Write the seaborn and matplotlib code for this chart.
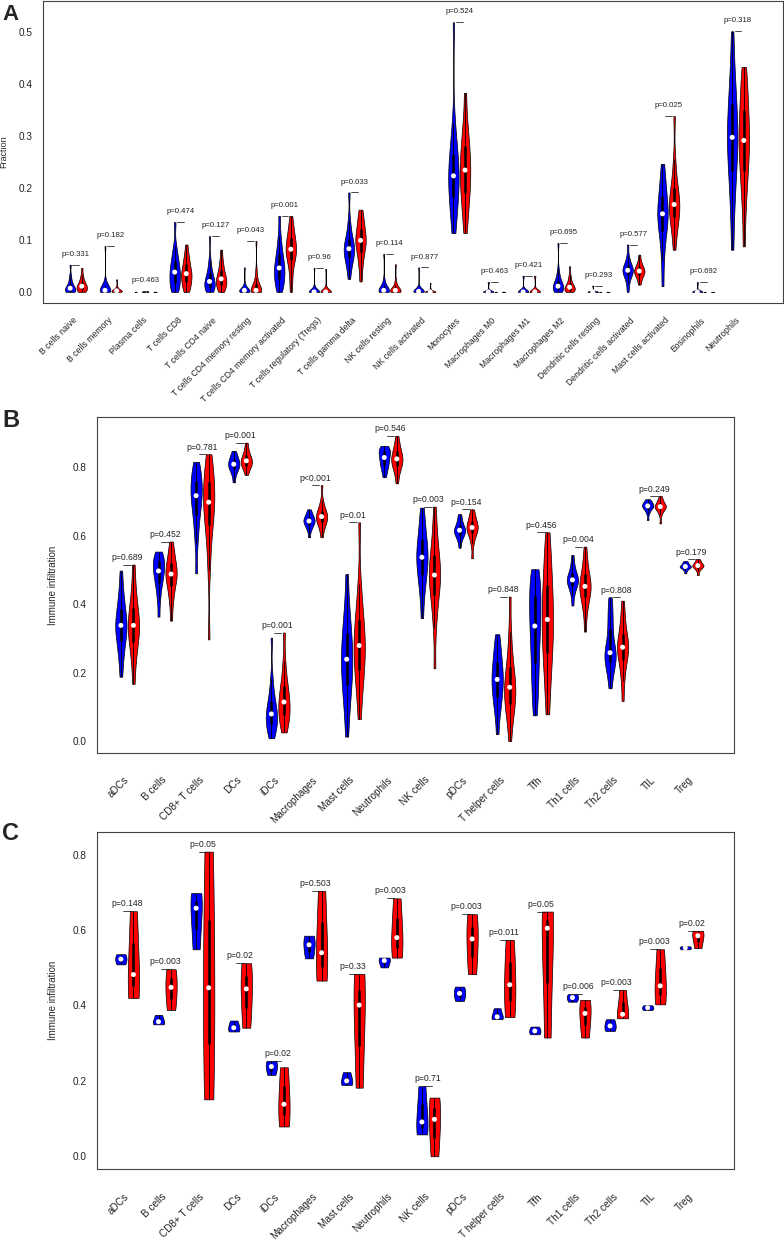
import numpy as np
import pandas as pd
import matplotlib
matplotlib.use('Agg')
import matplotlib.pyplot as plt
from matplotlib.cbook import boxplot_stats
import seaborn as sns

# ---- panel A: CIBERSORT fractions ----
a_cells = ['B cells naive', 'B cells memory', 'Plasma cells', 'T cells CD8', 'T cells CD4 naive',
           'T cells CD4 memory resting', 'T cells CD4 memory activated', 'T cells regulatory (Tregs)',
           'T cells gamma delta', 'NK cells resting', 'NK cells activated', 'Monocytes', 'Macrophages M0',
           'Macrophages M1', 'Macrophages M2', 'Dendritic cells resting', 'Dendritic cells activated',
           'Mast cells activated', 'Eosinophils', 'Neutrophils']
a_normal = [
    [0, 0, 0.001, 0.002, 0.003, 0.004, 0.006, 0.007, 0.009, 0.011, 0.014, 0.018, 0.024, 0.032, 0.052],
    [0, 0, 0, 0.001, 0.001, 0.002, 0.002, 0.003, 0.004, 0.005, 0.007, 0.009, 0.013, 0.02, 0.088],
    [0, 0, 0, 0, 0, 0, 0, 0, 0.001],
    [0, 0.004, 0.009, 0.015, 0.021, 0.027, 0.033, 0.038, 0.043, 0.049, 0.056, 0.064, 0.074, 0.088, 0.134],
    [0, 0.002, 0.005, 0.008, 0.011, 0.014, 0.017, 0.02, 0.023, 0.027, 0.032, 0.039, 0.048, 0.062, 0.107],
    [0, 0, 0, 0.001, 0.001, 0.002, 0.002, 0.003, 0.003, 0.004, 0.005, 0.007, 0.01, 0.016, 0.047],
    [0, 0.008, 0.015, 0.022, 0.029, 0.035, 0.041, 0.046, 0.052, 0.059, 0.067, 0.077, 0.09, 0.108, 0.146],
    [0, 0, 0, 0, 0, 0, 0, 0, 0, 0, 0.001, 0.002, 0.004, 0.01, 0.046],
    [0.025, 0.045, 0.055, 0.063, 0.07, 0.075, 0.079, 0.083, 0.087, 0.092, 0.098, 0.106, 0.118, 0.138, 0.191],
    [0, 0, 0, 0.001, 0.001, 0.002, 0.002, 0.003, 0.004, 0.005, 0.007, 0.01, 0.015, 0.024, 0.073],
    [0, 0, 0, 0, 0, 0, 0, 0.001, 0.001, 0.002, 0.003, 0.004, 0.006, 0.01, 0.047],
    [0.113, 0.14, 0.158, 0.175, 0.19, 0.203, 0.214, 0.223, 0.232, 0.243, 0.256, 0.272, 0.292, 0.325, 0.518],
    [0, 0, 0, 0, 0, 0, 0, 0, 0.019],
    [0, 0, 0, 0, 0, 0, 0, 0.002, 0.031],
    [0, 0.002, 0.003, 0.005, 0.006, 0.008, 0.009, 0.011, 0.013, 0.016, 0.019, 0.024, 0.031, 0.043, 0.094],
    [0, 0, 0, 0, 0, 0, 0, 0, 0.012],
    [0, 0.015, 0.024, 0.03, 0.034, 0.037, 0.04, 0.0415, 0.043, 0.046, 0.049, 0.053, 0.059, 0.068, 0.091],
    [0.011, 0.06, 0.09, 0.11, 0.123, 0.133, 0.142, 0.15, 0.158, 0.167, 0.177, 0.19, 0.205, 0.222, 0.246],
    [0, 0, 0, 0, 0, 0, 0, 0, 0.0185],
    [0.081, 0.15, 0.19, 0.22, 0.245, 0.265, 0.282, 0.297, 0.312, 0.33, 0.35, 0.372, 0.4, 0.435, 0.5006],
]
a_tumor = [
    [0, 0.001, 0.002, 0.004, 0.006, 0.008, 0.01, 0.011, 0.013, 0.015, 0.018, 0.021, 0.026, 0.033, 0.046],
    [0, 0, 0, 0, 0.001, 0.001, 0.002, 0.002, 0.003, 0.003, 0.004, 0.005, 0.007, 0.01, 0.024],
    [0, 0, 0, 0, 0, 0, 0, 0.001, 0.002],
    [0, 0.006, 0.011, 0.017, 0.022, 0.027, 0.031, 0.035, 0.039, 0.044, 0.05, 0.057, 0.065, 0.074, 0.091],
    [0, 0.004, 0.008, 0.012, 0.016, 0.019, 0.022, 0.025, 0.029, 0.033, 0.038, 0.045, 0.053, 0.063, 0.081],
    [0, 0, 0, 0.001, 0.001, 0.002, 0.002, 0.003, 0.005, 0.008, 0.012, 0.018, 0.027, 0.042, 0.098],
    [0, 0.025, 0.045, 0.058, 0.066, 0.072, 0.077, 0.082, 0.087, 0.093, 0.1, 0.108, 0.117, 0.128, 0.146],
    [0, 0, 0, 0, 0, 0, 0, 0, 0, 0, 0.001, 0.002, 0.004, 0.01, 0.044],
    [0.02, 0.045, 0.06, 0.072, 0.081, 0.088, 0.094, 0.099, 0.104, 0.11, 0.117, 0.125, 0.135, 0.146, 0.158],
    [0, 0, 0, 0.001, 0.001, 0.002, 0.002, 0.003, 0.004, 0.005, 0.007, 0.01, 0.014, 0.022, 0.053],
    [0, 0, 0, 0, 0, 0, 0, 0, 0, 0.001, 0.001, 0.002, 0.003, 0.006, 0.017],
    [0.113, 0.145, 0.165, 0.182, 0.197, 0.21, 0.222, 0.234, 0.246, 0.258, 0.272, 0.288, 0.306, 0.33, 0.3825],
    [0, 0, 0, 0, 0, 0, 0, 0, 0.002],
    [0, 0, 0, 0, 0, 0, 0, 0.001, 0.031],
    [0, 0.001, 0.002, 0.004, 0.005, 0.006, 0.008, 0.009, 0.011, 0.013, 0.016, 0.02, 0.025, 0.032, 0.049],
    [0, 0, 0, 0, 0, 0, 0, 0, 0.001],
    [0.014, 0.022, 0.027, 0.031, 0.034, 0.036, 0.038, 0.040, 0.042, 0.044, 0.047, 0.05, 0.054, 0.06, 0.0715],
    [0.081, 0.11, 0.125, 0.138, 0.148, 0.156, 0.162, 0.168, 0.175, 0.183, 0.193, 0.206, 0.224, 0.255, 0.338],
    [0, 0, 0, 0, 0, 0, 0, 0, 0.001],
    [0.0875, 0.16, 0.195, 0.222, 0.244, 0.262, 0.277, 0.291, 0.306, 0.322, 0.34, 0.36, 0.383, 0.405, 0.432],
]
a_ptext = ['p=0.331', 'p=0.182', 'p=0.463', 'p=0.474', 'p=0.127', 'p=0.043', 'p=0.001', 'p=0.96',
           'p=0.033', 'p=0.114', 'p=0.877', 'p=0.524', 'p=0.463', 'p=0.421', 'p=0.695', 'p=0.293',
           'p=0.577', 'p=0.025', 'p=0.692', 'p=0.318']

# ---- panels B and C: ssGSEA immune infiltration ----
immune_cells = ['aDCs', 'B cells', 'CD8+ T cells', 'DCs', 'iDCs', 'Macrophages', 'Mast cells',
                'Neutrophils', 'NK cells', 'pDCs', 'T helper cells', 'Tfh', 'Th1 cells', 'Th2 cells',
                'TIL', 'Treg']
b_normal = [
    [0.188, 0.235, 0.26, 0.285, 0.302, 0.315, 0.327, 0.338, 0.349, 0.362, 0.377, 0.395, 0.418, 0.448, 0.498],
    [0.3635, 0.41, 0.435, 0.455, 0.468, 0.478, 0.488, 0.497, 0.505, 0.513, 0.521, 0.529, 0.537, 0.545, 0.5536],
    [0.49, 0.58, 0.62, 0.65, 0.672, 0.69, 0.705, 0.717, 0.729, 0.741, 0.754, 0.768, 0.782, 0.798, 0.816],
    [0.756, 0.775, 0.785, 0.792, 0.797, 0.801, 0.805, 0.809, 0.813, 0.817, 0.821, 0.826, 0.832, 0.839, 0.848],
    [0.008, 0.025, 0.035, 0.045, 0.054, 0.062, 0.07, 0.079, 0.088, 0.098, 0.11, 0.125, 0.148, 0.185, 0.302],
    [0.5955, 0.614, 0.622, 0.628, 0.633, 0.637, 0.64, 0.643, 0.646, 0.649, 0.653, 0.657, 0.662, 0.668, 0.677],
    [0.013, 0.08, 0.12, 0.15, 0.175, 0.198, 0.219, 0.239, 0.259, 0.28, 0.303, 0.33, 0.362, 0.405, 0.488],
    [0.771, 0.785, 0.795, 0.803, 0.81, 0.816, 0.822, 0.8285, 0.834, 0.839, 0.844, 0.849, 0.854, 0.858, 0.8626],
    [0.359, 0.42, 0.45, 0.475, 0.494, 0.51, 0.524, 0.537, 0.55, 0.564, 0.58, 0.598, 0.62, 0.648, 0.682],
    [0.565, 0.584, 0.593, 0.6, 0.605, 0.609, 0.613, 0.616, 0.619, 0.623, 0.628, 0.634, 0.642, 0.652, 0.663],
    [0.02, 0.075, 0.1, 0.12, 0.138, 0.153, 0.167, 0.18, 0.193, 0.207, 0.222, 0.24, 0.26, 0.284, 0.312],
    [0.075, 0.13, 0.17, 0.21, 0.245, 0.28, 0.31, 0.336, 0.36, 0.385, 0.41, 0.435, 0.46, 0.482, 0.502],
    [0.396, 0.425, 0.44, 0.45, 0.457, 0.462, 0.467, 0.471, 0.475, 0.48, 0.486, 0.494, 0.505, 0.52, 0.544],
    [0.154, 0.19, 0.21, 0.225, 0.238, 0.248, 0.255, 0.258, 0.27, 0.29, 0.315, 0.34, 0.365, 0.392, 0.42],
    [0.646, 0.664, 0.672, 0.677, 0.68, 0.683, 0.685, 0.687, 0.689, 0.691, 0.693, 0.696, 0.699, 0.703, 0.7066],
    [0.49, 0.498, 0.502, 0.505, 0.507, 0.508, 0.509, 0.51, 0.511, 0.513, 0.515, 0.517, 0.52, 0.523, 0.526],
]
b_tumor = [
    [0.167, 0.225, 0.255, 0.28, 0.299, 0.313, 0.326, 0.338, 0.35, 0.364, 0.38, 0.4, 0.425, 0.46, 0.5156],
    [0.352, 0.4, 0.425, 0.445, 0.46, 0.47, 0.48, 0.488, 0.496, 0.505, 0.515, 0.527, 0.542, 0.56, 0.583],
    [0.297, 0.5, 0.57, 0.615, 0.645, 0.665, 0.682, 0.698, 0.714, 0.73, 0.748, 0.768, 0.79, 0.814, 0.838],
    [0.778, 0.79, 0.797, 0.803, 0.807, 0.811, 0.815, 0.819, 0.823, 0.827, 0.832, 0.838, 0.846, 0.857, 0.872],
    [0.025, 0.045, 0.058, 0.07, 0.081, 0.091, 0.102, 0.114, 0.126, 0.138, 0.152, 0.17, 0.195, 0.235, 0.317],
    [0.5955, 0.618, 0.628, 0.636, 0.642, 0.647, 0.652, 0.656, 0.66, 0.665, 0.67, 0.677, 0.687, 0.703, 0.748],
    [0.064, 0.13, 0.165, 0.195, 0.22, 0.242, 0.261, 0.279, 0.297, 0.317, 0.34, 0.368, 0.405, 0.46, 0.639],
    [0.753, 0.777, 0.79, 0.8, 0.807, 0.813, 0.819, 0.8246, 0.83, 0.836, 0.843, 0.851, 0.861, 0.874, 0.892],
    [0.2125, 0.33, 0.38, 0.415, 0.44, 0.458, 0.472, 0.485, 0.499, 0.515, 0.533, 0.555, 0.585, 0.625, 0.685],
    [0.534, 0.575, 0.592, 0.603, 0.61, 0.615, 0.62, 0.624, 0.628, 0.633, 0.639, 0.646, 0.655, 0.665, 0.677],
    [0.0, 0.055, 0.08, 0.1, 0.117, 0.131, 0.144, 0.157, 0.171, 0.186, 0.205, 0.23, 0.265, 0.32, 0.422],
    [0.078, 0.15, 0.2, 0.24, 0.272, 0.3, 0.328, 0.355, 0.382, 0.41, 0.44, 0.473, 0.51, 0.555, 0.61],
    [0.32, 0.37, 0.395, 0.413, 0.426, 0.436, 0.444, 0.452, 0.46, 0.469, 0.48, 0.494, 0.512, 0.535, 0.568],
    [0.117, 0.175, 0.205, 0.228, 0.245, 0.258, 0.267, 0.274, 0.282, 0.292, 0.305, 0.322, 0.345, 0.372, 0.41],
    [0.636, 0.66, 0.67, 0.675, 0.679, 0.682, 0.684, 0.685, 0.687, 0.69, 0.693, 0.697, 0.702, 0.708, 0.716],
    [0.485, 0.497, 0.502, 0.506, 0.508, 0.51, 0.5115, 0.5127, 0.514, 0.516, 0.518, 0.521, 0.524, 0.528, 0.532],
]
b_ptext = ['p=0.689', 'p=0.452', 'p=0.781', 'p=0.001', 'p=0.001', 'p<0.001', 'p=0.01', 'p=0.546',
           'p=0.003', 'p=0.154', 'p=0.848', 'p=0.456', 'p=0.004', 'p=0.808', 'p=0.249', 'p=0.179']

c_normal = [
    [0.509, 0.523, 0.536], [0.35, 0.357, 0.375], [0.549, 0.658, 0.698], [0.331, 0.341, 0.36],
    [0.216, 0.238, 0.253], [0.525, 0.561, 0.585], [0.189, 0.2, 0.223], [0.501, 0.519, 0.527],
    [0.058, 0.091, 0.186], [0.412, 0.432, 0.45], [0.364, 0.37, 0.3926], [0.3236, 0.3325, 0.344],
    [0.41, 0.421, 0.43], [0.3324, 0.3457, 0.3634], [0.388, 0.394, 0.4005], [0.549, 0.553, 0.557],
]
c_tumor = [
    [0.42, 0.482, 0.65], [0.388, 0.448, 0.496], [0.151, 0.447, 0.808], [0.341, 0.444, 0.512],
    [0.079, 0.138, 0.236], [0.466, 0.54, 0.704], [0.182, 0.401, 0.4836], [0.527, 0.58, 0.684],
    [0.0, 0.098, 0.1556], [0.483, 0.5765, 0.642], [0.369, 0.455, 0.574], [0.315, 0.605, 0.649],
    [0.315, 0.379, 0.4147], [0.366, 0.3767, 0.4412], [0.403, 0.452, 0.549], [0.552, 0.585, 0.598],
]
c_ptext = ['p=0.148', 'p=0.003', 'p=0.05', 'p=0.02', 'p=0.02', 'p=0.503', 'p=0.33', 'p=0.003',
           'p=0.71', 'p=0.003', 'p=0.011', 'p=0.05', 'p=0.006', 'p=0.003', 'p=0.003', 'p=0.02']

group_colors = {'Normal': '#0000FF', 'Tumor': '#FF0000'}
frame_color = '#444444'


def violin_panel(ax, cells, normal, tumor, ptext, pfont, label_size, label_pad, bw):
    rows = []
    for i in range(len(cells)):
        rows += [(3 * i, v, 'Normal') for v in normal[i]]
        rows += [(3 * i + 1, v, 'Tumor') for v in tumor[i]]
    df = pd.DataFrame(rows, columns=['pos', 'value', 'group'])

    sns.violinplot(data=df, x='pos', y='value', hue='group', palette=group_colors,
                   native_scale=True, dodge=False, cut=0, inner=None, density_norm='width',
                   bw_adjust=bw, width=0.9, linecolor='black', linewidth=0.5, saturation=1,
                   legend=False, ax=ax)

    # vioplot style inner: whisker line, black box, white median dot
    for pos, grp in df.groupby('pos'):
        st = boxplot_stats(grp['value'].values)[0]
        ax.vlines(pos, st['whislo'], st['whishi'], color='black', lw=0.6, zorder=3)
        ax.vlines(pos, st['q1'], st['q3'], color='black', lw=1.8, zorder=3)
        ax.scatter([pos], [st['med']], s=13, color='white', edgecolor='none', zorder=4)

    for i, p in enumerate(ptext):
        mx = max(max(normal[i]), max(tumor[i]))
        ax.plot([3 * i + 0.2, 3 * i + 0.8], [mx, mx], color='black', lw=0.5)
        ax.text(3 * i + 0.5, mx + 0.02, p, ha='center', va='center', fontsize=pfont, color='#222222')

    ax.set_xticks([3 * i + 0.5 for i in range(len(cells))])
    ax.set_xticklabels(cells, rotation=45, ha='right', va='center', rotation_mode='anchor',
                       fontsize=label_size, color='#222222')
    ax.tick_params(axis='x', length=0, pad=label_pad)
    ax.tick_params(axis='y', length=4.5, width=0.6, color=frame_color, labelsize=7.2, pad=3,
                   labelcolor='#222222')
    ax.set_xlabel('')
    for sp in ax.spines.values():
        sp.set_visible(True)
        sp.set_color(frame_color)
        sp.set_linewidth(0.8)


sns.set_theme(style='white')
plt.rcParams['font.family'] = ['Liberation Sans', 'DejaVu Sans']

fig = plt.figure(figsize=(7.84, 12.4), dpi=100)
ax_a = fig.add_axes([0.0545, 0.7556, 0.9440, 0.2436])
ax_b = fig.add_axes([0.1241, 0.3925, 0.8121, 0.2715])
ax_c = fig.add_axes([0.1241, 0.0575, 0.8121, 0.2715])

violin_panel(ax_a, a_cells, a_normal, a_tumor, a_ptext, 5.6, 6.2, 11.5, 0.7)
ax_a.set_xlim(-2.36, 61.36)
ax_a.set_ylim(-0.0215, 0.559)
ax_a.set_yticks([0, 0.1, 0.2, 0.3, 0.4, 0.5])
ax_a.set_yticklabels(['0.0', '0.1', '0.2', '0.3', '0.4', '0.5'])
ax_a.set_ylabel('Fraction', fontsize=6.5)
ax_a.yaxis.set_label_coords(-0.046, 0.5)

violin_panel(ax_b, immune_cells, b_normal, b_tumor, b_ptext, 6.2, 7.2, 18, 0.7)
ax_b.set_xlim(-1.88, 48.88)
ax_b.set_ylim(-0.036, 0.948)
ax_b.set_yticks([0, 0.2, 0.4, 0.6, 0.8])
ax_b.set_yticklabels(['0.0', '0.2', '0.4', '0.6', '0.8'])
ax_b.set_ylabel('Immune infiltration', fontsize=7)
ax_b.yaxis.set_label_coords(-0.061, 0.5)

violin_panel(ax_c, immune_cells, c_normal, c_tumor, c_ptext, 6.2, 7.2, 19, 1.0)
ax_c.set_xlim(-1.88, 48.88)
ax_c.set_ylim(-0.033, 0.860)
ax_c.set_yticks([0, 0.2, 0.4, 0.6, 0.8])
ax_c.set_yticklabels(['0.0', '0.2', '0.4', '0.6', '0.8'])
ax_c.set_ylabel('Immune infiltration', fontsize=7)
ax_c.yaxis.set_label_coords(-0.061, 0.5)

fig.text(0.003, 1 - 4 / 1240, 'A', fontsize=16, fontweight='bold', ha='left', va='top')
fig.text(0.003, 1 - 409 / 1240, 'B', fontsize=17, fontweight='bold', ha='left', va='top')
fig.text(0.003, 1 - 822 / 1240, 'C', fontsize=17, fontweight='bold', ha='left', va='top')

fig.savefig('out.png', dpi=100)
